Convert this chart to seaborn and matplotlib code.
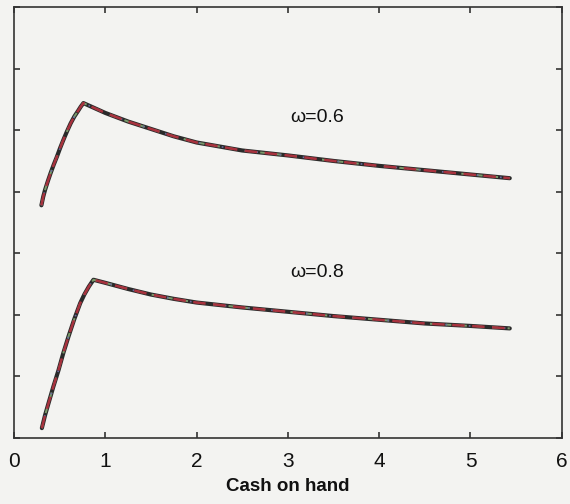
import matplotlib
matplotlib.use("Agg")
import matplotlib.pyplot as plt
import seaborn as sns
import pandas as pd

# Consumption policy against cash on hand, for two values of omega
x_w06 = [0.30, 0.32, 0.34, 0.37, 0.40, 0.435, 0.47, 0.505, 0.54, 0.58, 0.62,
         0.66, 0.70, 0.73, 0.76, 1.00, 1.25, 1.50, 1.75, 2.00, 2.50, 3.00,
         3.50, 4.00, 4.50, 5.00, 5.43]
c_w06 = [3.78, 3.92, 4.03, 4.17, 4.30, 4.44, 4.57, 4.71, 4.84, 4.98, 5.11,
         5.22, 5.31, 5.38, 5.44, 5.28, 5.14, 5.02, 4.90, 4.80, 4.67, 4.59,
         4.50, 4.42, 4.35, 4.28, 4.22]

x_w08 = [0.305, 0.34, 0.377, 0.43, 0.487, 0.54, 0.597, 0.66, 0.725, 0.77,
         0.82, 0.87, 1.00, 1.25, 1.50, 1.75, 2.00, 2.50, 3.00, 3.50, 4.00,
         4.50, 5.00, 5.43]
c_w08 = [0.16, 0.37, 0.56, 0.83, 1.10, 1.38, 1.65, 1.93, 2.19, 2.33,
         2.46, 2.57, 2.52, 2.42, 2.33, 2.26, 2.20, 2.12, 2.05, 1.98, 1.92,
         1.86, 1.82, 1.78]

omega_labels = ["\u03c9=0.6", "\u03c9=0.8"]
label_pos = [(3.32, 5.2), (3.32, 2.68)]
x_ticks = [0, 1, 2, 3, 4, 5, 6]
y_ticks = [0, 1, 2, 3, 4, 5, 6, 7]

sns.set_theme(style="white")
plt.rcParams["font.family"] = ["Liberation Sans", "DejaVu Sans"]

bg = "#f3f3f1"
fig = plt.figure(figsize=(5.70, 5.04), dpi=100, facecolor=bg)
ax = fig.add_axes([0.0246, 0.131, 0.961, 0.855], facecolor=bg)

frames = [pd.DataFrame({"cash": x_w06, "c": c_w06}),
          pd.DataFrame({"cash": x_w08, "c": c_w08})]

# several overlapping solutions, drawn in different colours and dash patterns
styles = [("#2a2a2a", "-", 3.0), ("#7a9a6a", (0, (3, 5)), 1.4),
          ("#6a6aa0", (0, (1, 6)), 1.2), ("#a8323e", (0, (5, 3)), 1.8)]
for df in frames:
    for color, ls, lw in styles:
        sns.lineplot(data=df, x="cash", y="c", ax=ax, color=color,
                     linestyle=ls, linewidth=lw, sort=False,
                     estimator=None, legend=False)

for text, (tx, ty) in zip(omega_labels, label_pos):
    ax.text(tx, ty, text, fontsize=14, ha="center", va="center", color="#111111")

ax.set_xlim(0, 6)
ax.set_ylim(0, 7)
ax.set_xticks(x_ticks)
ax.set_xticklabels([str(t) for t in x_ticks], fontsize=15, color="#111111")
ax.set_yticks(y_ticks)
ax.set_yticklabels([])
ax.tick_params(direction="in", length=4, width=1.2, color="#333333",
               top=True, right=True, bottom=True, left=True, pad=10)
for s in ax.spines.values():
    s.set_color("#333333")
    s.set_linewidth(1.2)
ax.set_xlabel("Cash on hand", fontsize=13.5, fontweight="bold",
              color="#111111", labelpad=5)
ax.set_ylabel("")

fig.savefig("out.png", dpi=100, facecolor=bg)
